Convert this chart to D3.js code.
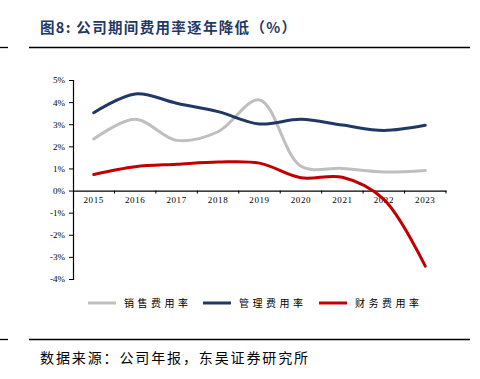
<!DOCTYPE html>
<html><head><meta charset="utf-8">
<script src="https://cdn.jsdelivr.net/npm/d3@7"></script>
<style>body{margin:0;background:#fff}svg{display:block}</style>
</head><body>
<svg id="c" width="480" height="379"></svg>
<script>
const years = ["2015","2016","2017","2018","2019","2020","2021","2022","2023"];
const salesRate = [2.33, 3.22, 2.27, 2.66, 4.10, 1.10, 1.00, 0.84, 0.91];
const adminRate = [3.52, 4.37, 3.95, 3.57, 3.01, 3.22, 2.96, 2.72, 2.95];
const financeRate = [0.73, 1.08, 1.19, 1.29, 1.24, 0.58, 0.60, -0.40, -3.42];
const yTicks = [5, 4, 3, 2, 1, 0, -1, -2, -3, -4];
const seriesNames = ["销售费用率", "管理费用率", "财务费用率"];
const seriesColors = ["#bfbfbf", "#1f3864", "#c00000"];
const titleText = "图8:  公司期间费用率逐年降低（%）";
const sourceText = "数据来源：公司年报，东吴证券研究所";

const svg = d3.select("#c");
const serif = "'Liberation Serif','Times New Roman',serif";
const cjk = "'Noto Sans CJK SC','Noto Sans CJK JP',sans-serif";

// title
svg.append("text").attr("x", 40).attr("y", 33)
  .attr("font-family", cjk).attr("font-weight", "bold").attr("font-size", 14.5)
  .attr("textLength", 256).attr("lengthAdjust", "spacing")
  .attr("fill", "#1f3864").text(titleText);
// rules
[47.5, 339.5].forEach(y => {
  svg.append("line").attr("x1", 0).attr("x2", 8).attr("y1", y).attr("y2", y).attr("stroke", "#000").attr("stroke-width", 1.3);
  svg.append("line").attr("x1", 29).attr("x2", 470).attr("y1", y).attr("y2", y).attr("stroke", "#000").attr("stroke-width", 1.3);
});
svg.append("text").attr("x", 40).attr("y", 363)
  .attr("font-family", cjk).attr("font-size", 14)
  .attr("textLength", 268).attr("lengthAdjust", "spacing")
  .attr("fill", "#000").text(sourceText);

const x = d3.scaleBand().domain(years).range([73, 446]);
const y = d3.scaleLinear().domain([-4, 5]).range([279, 80]);

// y axis
const ya = svg.append("g").attr("transform", "translate(73,0)")
  .call(d3.axisLeft(y).tickValues(yTicks).tickSize(4).tickFormat(d => d + "%"));
ya.select(".domain").attr("stroke", "#000").attr("stroke-width", 1.2);
ya.selectAll(".tick line").attr("stroke", "#000");
ya.selectAll("text").attr("font-family", serif).attr("font-size", 9).attr("fill", "#000").attr("dx", -1);

// x axis at 0
const xa = svg.append("g").attr("transform", `translate(0,${y(0)})`)
  .call(d3.axisBottom(x).tickSize(0).tickSizeOuter(0));
xa.select(".domain").attr("stroke", "#000").attr("stroke-width", 1.2);
xa.selectAll("text").attr("font-family", serif).attr("font-size", 9).attr("fill", "#000").attr("dy", "1.1em").attr("letter-spacing", 0.6);
// boundary ticks
const bounds = years.map(d => x(d)).concat([x.range()[1]]).slice(1);
xa.selectAll(".btick").data(bounds).enter().append("line")
  .attr("x1", d => d).attr("x2", d => d).attr("y1", 0).attr("y2", 3).attr("stroke", "#000");

const line = d3.line()
  .x((d, i) => x(years[i]) + x.bandwidth() / 2)
  .y(d => y(d))
  .curve(d3.curveCatmullRom.alpha(0.5));

[salesRate, adminRate, financeRate].forEach((s, i) => {
  svg.append("path").datum(s).attr("d", line).attr("fill", "none")
    .attr("stroke", seriesColors[i]).attr("stroke-width", 3).attr("stroke-linecap", "round");
});

// legend
const legX = [88, 203, 319];
seriesNames.forEach((n, i) => {
  svg.append("line").attr("x1", legX[i]).attr("x2", legX[i] + 28).attr("y1", 303).attr("y2", 303)
    .attr("stroke", seriesColors[i]).attr("stroke-width", 3);
  svg.append("text").attr("x", legX[i] + 36).attr("y", 307)
    .attr("font-family", cjk).attr("font-size", 10).attr("letter-spacing", 3.5)
    .attr("fill", "#000").text(n);
});
</script>
</body></html>
